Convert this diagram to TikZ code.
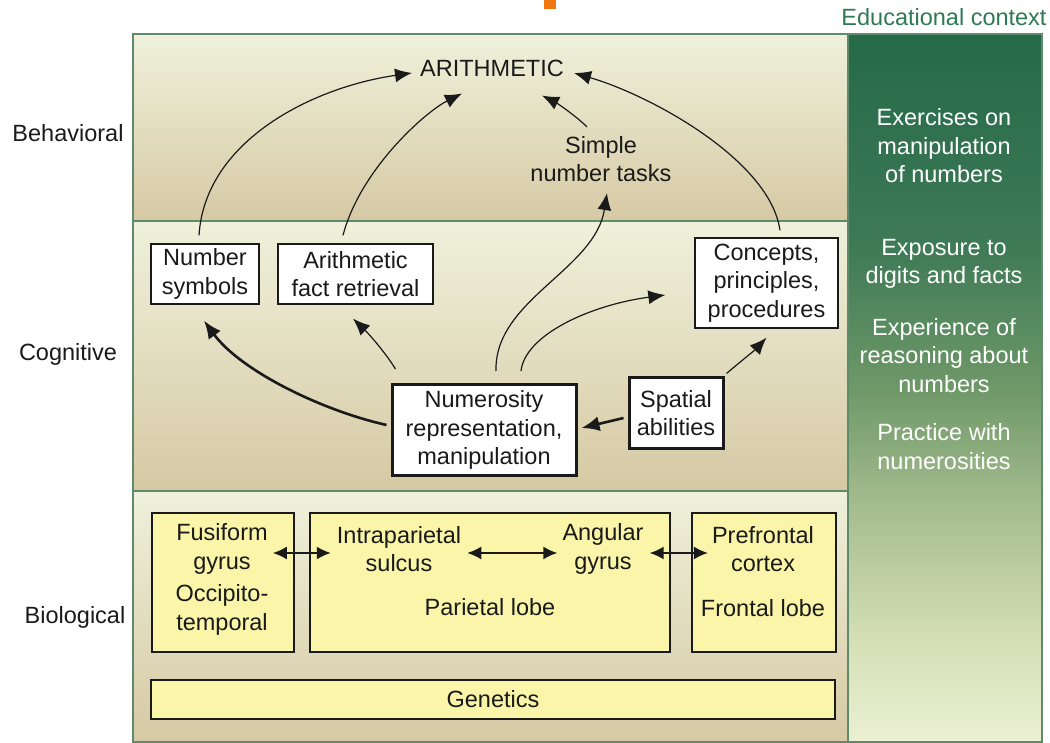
\documentclass[tikz,border=0pt]{standalone}
\usepackage{fontspec}
\setmainfont{Liberation Sans}
\usetikzlibrary{arrows.meta,calc}

\definecolor{bandtop}{HTML}{EFF1DB}
\definecolor{bandbot}{HTML}{D6C9A4}
\definecolor{framegreen}{HTML}{5E8B6C}
\definecolor{edutop}{HTML}{256949}
\definecolor{eduD}{HTML}{3E7A56}
\definecolor{eduC}{HTML}{6E9868}
\definecolor{eduB}{HTML}{A3BB8D}
\definecolor{eduA}{HTML}{D6E0B6}
\definecolor{edubot}{HTML}{EBF0D3}
\definecolor{boxyellow}{HTML}{FAF5A8}
\definecolor{edutext}{HTML}{2F7A56}
\definecolor{orangemark}{HTML}{F07810}
\definecolor{ink}{HTML}{1A1A1A}

\pgfdeclareverticalshading{bandshade}{100bp}{color(0bp)=(bandbot); color(25bp)=(bandbot); color(75bp)=(bandtop); color(100bp)=(bandtop)}
\pgfdeclareverticalshading{edushade}{100bp}{color(0bp)=(edubot); color(25bp)=(edubot); color(32bp)=(eduA); color(42bp)=(eduB); color(50bp)=(eduC); color(60bp)=(eduD); color(75bp)=(edutop); color(100bp)=(edutop)}

\tikzset{
  wbox/.style={draw=ink, fill=white, line width=1.3pt, align=center, inner sep=0pt, text=ink},
  thickbox/.style={wbox, line width=3pt},
  ybox/.style={draw=ink, fill=boxyellow, line width=1.3pt, inner sep=0pt, align=center, text=ink},
  lbl/.style={align=center, text=ink, inner sep=0pt},
  edutxt/.style={align=center, text=white, inner sep=0pt},
  arr/.style={draw=ink, line width=1.2pt, -{Latex[length=17pt,width=14pt]}},
  tarr/.style={draw=ink, line width=2.6pt, -{Latex[length=18pt,width=15pt]}},
  dbl/.style={draw=ink, line width=1.6pt, {Latex[length=14pt,width=13pt]}-{Latex[length=14pt,width=13pt]}}
}

\begin{document}
\begin{tikzpicture}[x=1pt,y=-1pt,font=\fontsize{23.5}{28.5}\selectfont]
\useasboundingbox (0,0) rectangle (1050,743);

% orange mark
\fill[orangemark] (544,0) rectangle (556,9);

% bands
\shade[shading=bandshade] (133,34) rectangle (848,221);
\shade[shading=bandshade] (133,221) rectangle (848,491);
\shade[shading=bandshade] (133,491) rectangle (848,742);
\shade[shading=edushade] (848,34) rectangle (1042,742);
\draw[framegreen, line width=2pt] (133,221) -- (848,221);
\draw[framegreen, line width=2pt] (133,491) -- (848,491);
\draw[framegreen, line width=2pt] (848,34) -- (848,742);
\draw[framegreen, line width=2pt] (133,34) rectangle (1042,742);

% level labels
\node[lbl] (beh) at (68,133) {Behavioral};
\node[lbl] (cog) at (68,354) {Cognitive};
\node[lbl] (bio) at (75,617) {Biological};
\node[lbl, text=edutext] (educ) at (944,17) {Educational context};

% educational context column
\node[edutxt] (e1) at (944,146) {Exercises on\\manipulation\\of numbers};
\node[edutxt] (e2) at (944,264) {Exposure to\\digits and facts};
\node[edutxt] (e3) at (944,355.5) {Experience of\\reasoning about\\numbers};
\node[edutxt] (e4) at (944,446.5) {Practice with\\numerosities};

% behavioral
\node[lbl] (arith) at (492,68) {ARITHMETIC};
\node[lbl] (snt) at (601,159) {Simple\\number tasks};

% cognitive
\node[wbox, minimum width=108pt, minimum height=60pt] (nsym) at (205,274) {Number\\symbols};
\node[wbox, minimum width=155pt, minimum height=60pt] (afr) at (355.5,274) {Arithmetic\\fact retrieval};
\node[wbox, minimum width=143pt, minimum height=90pt] (conc) at (766.5,283) {Concepts,\\principles,\\procedures};
\node[thickbox, minimum width=184pt, minimum height=91pt] (num) at (484,430) {Numerosity\\representation,\\manipulation};
\node[thickbox, minimum width=94pt, minimum height=70pt] (spat) at (676,413) {Spatial\\abilities};

% biological
\node[ybox, minimum width=142pt, minimum height=139pt] (fusbox) at (223,582.5) {};
\node[ybox, minimum width=360pt, minimum height=139pt] (parbox) at (490,582.5) {};
\node[ybox, minimum width=144pt, minimum height=139pt] (pfcbox) at (764,582.5) {};
\node[ybox, minimum width=684pt, minimum height=39pt] (gen) at (493,699.5) {Genetics};

\node[lbl, inner sep=3pt] (fus) at (222,549) {Fusiform\\gyrus};
\node[lbl] (occ) at (222,610) {Occipito-\\temporal};
\node[lbl, inner sep=3pt] (ips) at (399,549) {Intraparietal\\sulcus};
\node[lbl, inner sep=3pt] (ang) at (603,549) {Angular\\gyrus};
\node[lbl] (parl) at (490,607) {Parietal lobe};
\node[lbl, inner sep=3pt] (pfc) at (763,549) {Prefrontal\\cortex};
\node[lbl] (frl) at (763,608) {Frontal lobe};

\draw[dbl] ($(fus.east)+(2,4)$) -- ($(ips.west)+(-3,4)$);
\draw[dbl] ($(ips.east)+(3,4)$) -- ($(ang.west)+(-2,4)$);
\draw[dbl] ($(ang.east)+(3,4)$) -- ($(pfc.west)+(-1,4)$);

% arrows to arithmetic
\draw[arr] ($(nsym.north)+(-6,-8)$) .. controls (205,140) and (314,87) .. ($(arith.west)+(-8,5)$);
\draw[arr] ($(afr.north)+(-12.5,-8)$) .. controls (360,170) and (425,112) .. ($(arith.south)+(-30,17)$);
\draw[arr] ($(conc.north)+(13.5,-7)$) .. controls (770,160) and (650,95) .. ($(arith.east)+(10,5)$);
\draw[arr] ($(snt.north)+(-14,-9)$) .. controls (575,115) and (555,102) .. ($(arith.south)+(50,19)$);

% cognitive arrows
\draw[arr] ($(num.north)+(12,-12)$) .. controls (494,300) and (595,270) .. ($(snt.south)+(6,11)$);
\draw[arr] ($(num.north)+(37,-12)$) .. controls (525,335) and (590,305) .. ($(conc.west)+(-29,12)$);
\draw[tarr] ($(num.west)+(-4,-5)$) .. controls (320,410) and (240,370) .. ($(nsym.south)+(-1,16)$);
\draw[arr] ($(num.north west)+(5,-14)$) .. controls (385,352) and (368,333) .. ($(afr.south)+(-2.5,14)$);
\draw[tarr] ($(spat.west)+(-4,5)$) -- ($(num.east)+(4,-2)$);
\draw[arr] ($(spat.north east)+(2,-3)$) .. controls (740,362) and (755,350) .. ($(conc.south)+(0,9)$);
\end{tikzpicture}
\end{document}
